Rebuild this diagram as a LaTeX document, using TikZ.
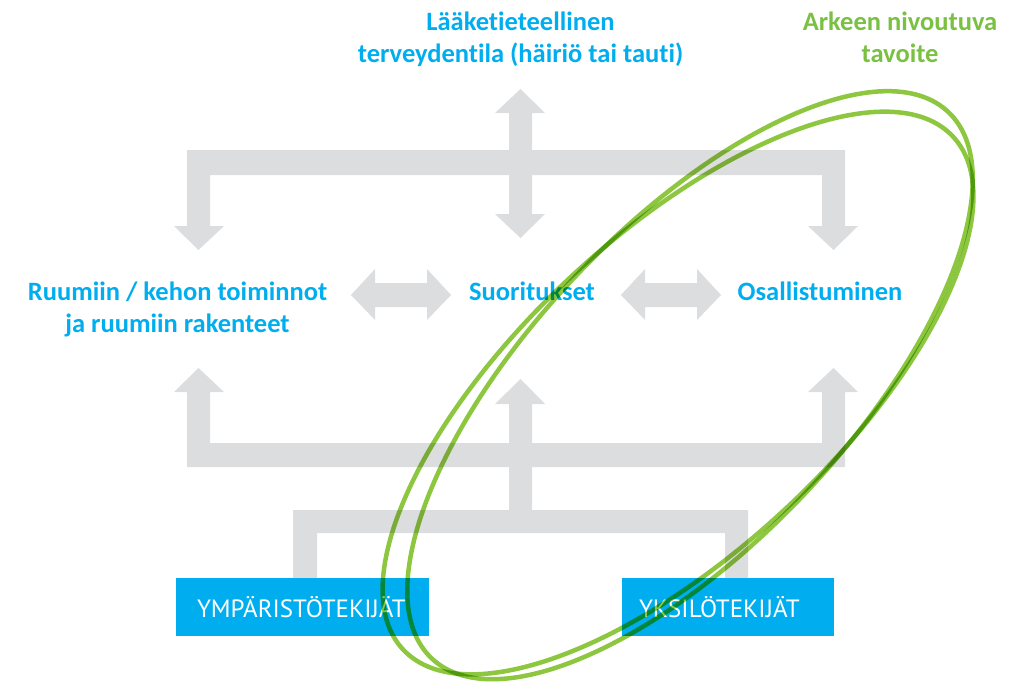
\documentclass[tikz,border=0pt]{standalone}
\usepackage{fontspec}
\setmainfont{Carlito}[Ligatures=NoCommon]
\newfontfamily\boxfont{PT Sans}
\definecolor{icfblue}{HTML}{00AEEF}
\definecolor{goalgreen}{HTML}{7AC143}
\definecolor{ringgreen}{HTML}{8DC63F}
\definecolor{arrowgray}{HTML}{DCDDDE}
\begin{document}
\begin{tikzpicture}[x=1pt,y=-1pt,
  label/.style={text=icfblue, font=\bfseries\fontsize{26.5}{32}\selectfont, align=center, anchor=base, inner sep=0pt},
  goal/.style={label, text=goalgreen},
  factor/.style={fill=icfblue, text=white, font=\boxfont\fontsize{25}{30}\selectfont, align=left, minimum height=58pt, inner ysep=0pt},
  block/.style={fill=arrowgray},
  ring/.style={draw=ringgreen, line width=4.5pt, blend mode=multiply}
]
\useasboundingbox (0,0) rectangle (1025,683);

% upper distributor: health condition arrow, bar and three arrows down
\fill[block] (174,226) -- (198.5,250) -- (224,226) -- (210,226) -- (210,175)
  -- (509,175) -- (509,214) -- (495,214) -- (520.5,238) -- (545,214) -- (532,214) -- (532,175)
  -- (822,175) -- (822,226) -- (808,226) -- (833.5,250) -- (858,226) -- (845,226) -- (845,150)
  -- (532,150) -- (532,113) -- (545,113) -- (520.5,89) -- (495,113) -- (509,113) -- (509,150)
  -- (187,150) -- (187,226) -- cycle;

% lower collector: three arrows up, bar and the two factor legs
\fill[block] (174,392) -- (198.5,368) -- (224,392) -- (210,392) -- (210,443)
  -- (509,443) -- (509,404) -- (495,404) -- (520.5,379) -- (545,404) -- (532,404) -- (532,443)
  -- (822,443) -- (822,392) -- (808,392) -- (833.5,368) -- (858,392) -- (845,392) -- (845,467)
  -- (532,467) -- (532,510) -- (748,510) -- (748,578) -- (725,578) -- (725,533)
  -- (317,533) -- (317,578) -- (293,578) -- (293,510) -- (509,510) -- (509,467)
  -- (187,467) -- (187,392) -- cycle;

% horizontal double arrows between the three components
\fill[block] (351,295) -- (375,269) -- (375,283) -- (427,283) -- (427,269) -- (451,295)
  -- (427,320) -- (427,307) -- (375,307) -- (375,320) -- cycle;
\fill[block] (621,295) -- (645,269) -- (645,283) -- (697,283) -- (697,269) -- (721,295)
  -- (697,320) -- (697,307) -- (645,307) -- (645,320) -- cycle;

% labels (anchored at the baseline of their last line)
\node[label] (med) at (520.5,62) {Lääketieteellinen\\terveydentila (häiriö tai tauti)};
\node[goal] (goal) at (900,62) {Arkeen nivoutuva\\tavoite};
\node[label] (body) at (177.5,332) {Ruumiin / kehon toiminnot\\ja ruumiin rakenteet};
\node[label] (act) at (532,300) {Suoritukset};
\node[label] (part) at (820,300) {Osallistuminen};

% contextual factors
\node[factor, inner xsep=21pt, text width=211pt] (env) at (302.5,607) {YMPÄRISTÖTEKIJÄT};
\node[factor, inner xsep=17pt, text width=178pt] (pers) at (728,607) {YKSILÖTEKIJÄT};

% the two goal rings
\draw[ring, rotate around={46.6:(690,385.2)}] (690,385.2) ellipse [x radius=376pt, y radius=158pt];
\draw[ring, rotate around={43:(678,393)}] (678,393) ellipse [x radius=376pt, y radius=158pt];
\end{tikzpicture}
\end{document}
